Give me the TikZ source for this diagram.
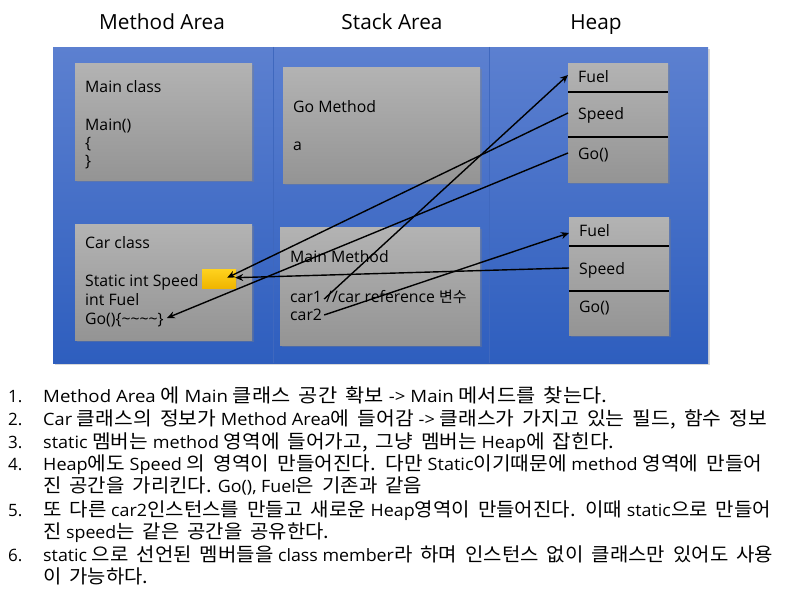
\documentclass[tikz,border=0pt]{standalone}
\usepackage{graphicx}
\usepackage{fontspec}
\setmainfont{Open Sans}
\newfontfamily\kofont[Scale=1.12, WordSpace=1.8]{Noto Sans CJK KR}
\newfontfamily\kobfont[Scale=0.95]{Noto Sans CJK KR}
\newcommand\ko[1]{{\kofont #1}}
\newcommand\kob[1]{{\kobfont #1}}
\newcommand\fitw[2]{\resizebox{#1}{\height}{#2}}
\usetikzlibrary{shadows,arrows.meta}
\definecolor{bgtop}{HTML}{5C80D0}
\definecolor{bgbot}{HTML}{2E5EBE}
\definecolor{boxtop}{HTML}{B3B3B3}
\definecolor{boxbot}{HTML}{949494}
\definecolor{divc}{HTML}{3F68BE}
\definecolor{yeltop}{HTML}{FFD21E}
\definecolor{yelbot}{HTML}{EFB500}
\begin{document}
\begin{tikzpicture}[x=1pt,y=-1pt,
  panel/.style={draw=none, top color=bgtop, bottom color=bgbot, inner sep=0, anchor=north west,
    drop shadow={opacity=0.3, shadow xshift=2pt, shadow yshift=-2pt}},
  graybox/.style={draw=none, top color=boxtop, bottom color=boxbot, inner sep=0, anchor=north west,
    drop shadow={opacity=0.35, shadow xshift=1.5pt, shadow yshift=-1.5pt}},
  yelbox/.style={draw=none, top color=yeltop, bottom color=yelbot, inner sep=0, anchor=north west,
    drop shadow={opacity=0.3, shadow xshift=1pt, shadow yshift=-1pt}},
  title/.style={inner sep=0, text height=15pt, text depth=5pt, font=\fontsize{20.8}{24}\selectfont},
  lbl/.style={anchor=west, inner sep=0, text height=14pt, text depth=1pt, font=\fontsize{15.8}{18}\selectfont},
  item/.style={anchor=west, inner sep=0, text height=15pt, text depth=1pt, font=\fontsize{17}{20}\selectfont},
  divline/.style={line width=1.6pt, black},
  arr/.style={line width=1.4pt, black, -{Stealth[length=8pt,width=7pt]}}
]
\useasboundingbox (0,0) rectangle (791,599);
\fill[white] (0,0) rectangle (791,599);

% titles
\node[title] (tma) at (162,24.5) {Method Area};
\node[title] (tsa) at (392,24.5) {Stack Area};
\node[title] (thp) at (596,24.5) {Heap};

% background panel
\node[panel, minimum width=655pt, minimum height=316pt] (bg) at (53,47) {};
\draw[divc, line width=1pt] (273,47) -- (273,363);
\draw[divc, line width=1pt] (489,47) -- (489,363);

% method area boxes
\node[graybox, minimum width=177pt, minimum height=117pt] (mainc) at (75,63) {};
\node[lbl] (mc1) at (85,86) {Main class};
\node[lbl] (mc2) at (85,124) {Main()};
\node[lbl] (mc3) at (85,142) {\{};
\node[lbl] (mc4) at (85,160) {\}};

\node[graybox, minimum width=177pt, minimum height=116pt] (carc) at (75,224) {};
\node[lbl] (cc1) at (85,242) {Car class};
\node[lbl] (cc2) at (85,280) {Static int Speed};
\node[lbl] (cc3) at (85,299) {int Fuel};
\node[lbl] (gofn) at (85,318) {Go()\{\string~\string~\string~\string~\}};
\node[yelbox, minimum width=34pt, minimum height=19pt] (yel) at (202,269) {};

% stack area boxes
\node[graybox, minimum width=197pt, minimum height=116pt] (gom) at (283,67) {};
\node[lbl] (gm1) at (293,106) {Go Method};
\node[lbl] (gm2) at (293,144) {a};

\node[graybox, minimum width=200pt, minimum height=118pt] (mainm) at (280,227) {};
\node[lbl] (mm1) at (290,256) {Main Method};
\node[lbl] (car1) at (290,296) {car1};
\node[lbl] (car1r) at (326,296) {//car reference \kob{변수}};
\node[lbl] (car2) at (290,314) {car2};

% heap boxes
\node[graybox, minimum width=100pt, minimum height=119pt] (h1) at (568,63) {};
\node[lbl] (h1fuel) at (578,76) {Fuel};
\node[lbl] (h1speed) at (578,113) {Speed};
\node[lbl] (h1go) at (578,153) {Go()};
\draw[divline] (h1.west |- 0,92) -- (h1.east |- 0,92);
\draw[divline] (h1.west |- 0,137) -- (h1.east |- 0,137);

\node[graybox, minimum width=100pt, minimum height=118pt] (h2) at (569,217) {};
\node[lbl] (h2fuel) at (579,230) {Fuel};
\node[lbl] (h2speed) at (579,268) {Speed};
\node[lbl] (h2go) at (579,306) {Go()};
\draw[divline] (h2.west |- 0,246) -- (h2.east |- 0,246);
\draw[divline] (h2.west |- 0,291) -- (h2.east |- 0,291);

% arrows
\draw[arr] ([xshift=2pt,yshift=-3pt]car1.east) -- ([yshift=1pt]h1.west |- h1fuel.west);
\draw[arr] (h1.west |- h1speed.west) -- ([xshift=8pt,yshift=1pt]yel.center);
\draw[arr] (h1.west |- h1go.west) -- ([xshift=3pt]gofn.east);
\draw[arr] ([xshift=2pt,yshift=-1pt]car2.east) -- ([yshift=-3pt]h2.west |- h2fuel.west);
\draw[arr] (h2.west |- h2speed.west) -- ([xshift=16pt,yshift=1pt]yel.center);

% list
\node[item] (n1) at (8,395) {1.};
\node[item] (l1) at (43,395) {\fitw{564pt}{Method Area \ko{에} Main \ko{클래스 공간 확보} -> Main \ko{메서드를 찾는다.}}};
\node[item] (n2) at (8,418) {2.};
\node[item] (l2) at (43,418) {\fitw{724pt}{Car \ko{클래스의 정보가} Method Area\ko{에 들어감} -> \ko{클래스가 가지고 있는 필드, 함수 정보}}};
\node[item] (n3) at (8,441) {3.};
\node[item] (l3) at (43,441) {\fitw{571pt}{static \ko{멤버는} method \ko{영역에 들어가고, 그냥 멤버는} Heap\ko{에 잡힌다.}}};
\node[item] (n4) at (8,463) {4.};
\node[item] (l4) at (43,463) {\fitw{719pt}{Heap\ko{에도} Speed \ko{의 영역이 만들어진다. 다만} Static\ko{이기때문에} method \ko{영역에 만들어}}};
\node[item] (l4b) at (43,485) {\fitw{379pt}{\ko{진 공간을 가리킨다.} Go(), Fuel\ko{은 기존과 같음}}};
\node[item] (n5) at (8,509) {5.};
\node[item] (l5) at (43,509) {\fitw{728pt}{\ko{또 다른} car2\ko{인스턴스를 만들고 새로운} Heap\ko{영역이 만들어진다. 이때} static\ko{으로 만들어}}};
\node[item] (l5b) at (43,531) {\fitw{286pt}{\ko{진} speed\ko{는 같은 공간을 공유한다.}}};
\node[item] (n6) at (8,554) {6.};
\node[item] (l6) at (43,554) {\fitw{730pt}{static \ko{으로 선언된 멤버들을} class member\ko{라 하며 인스턴스 없이 클래스만 있어도 사용}}};
\node[item] (l6b) at (43,576) {\fitw{105pt}{\ko{이 가능하다.}}};
\end{tikzpicture}
\end{document}
